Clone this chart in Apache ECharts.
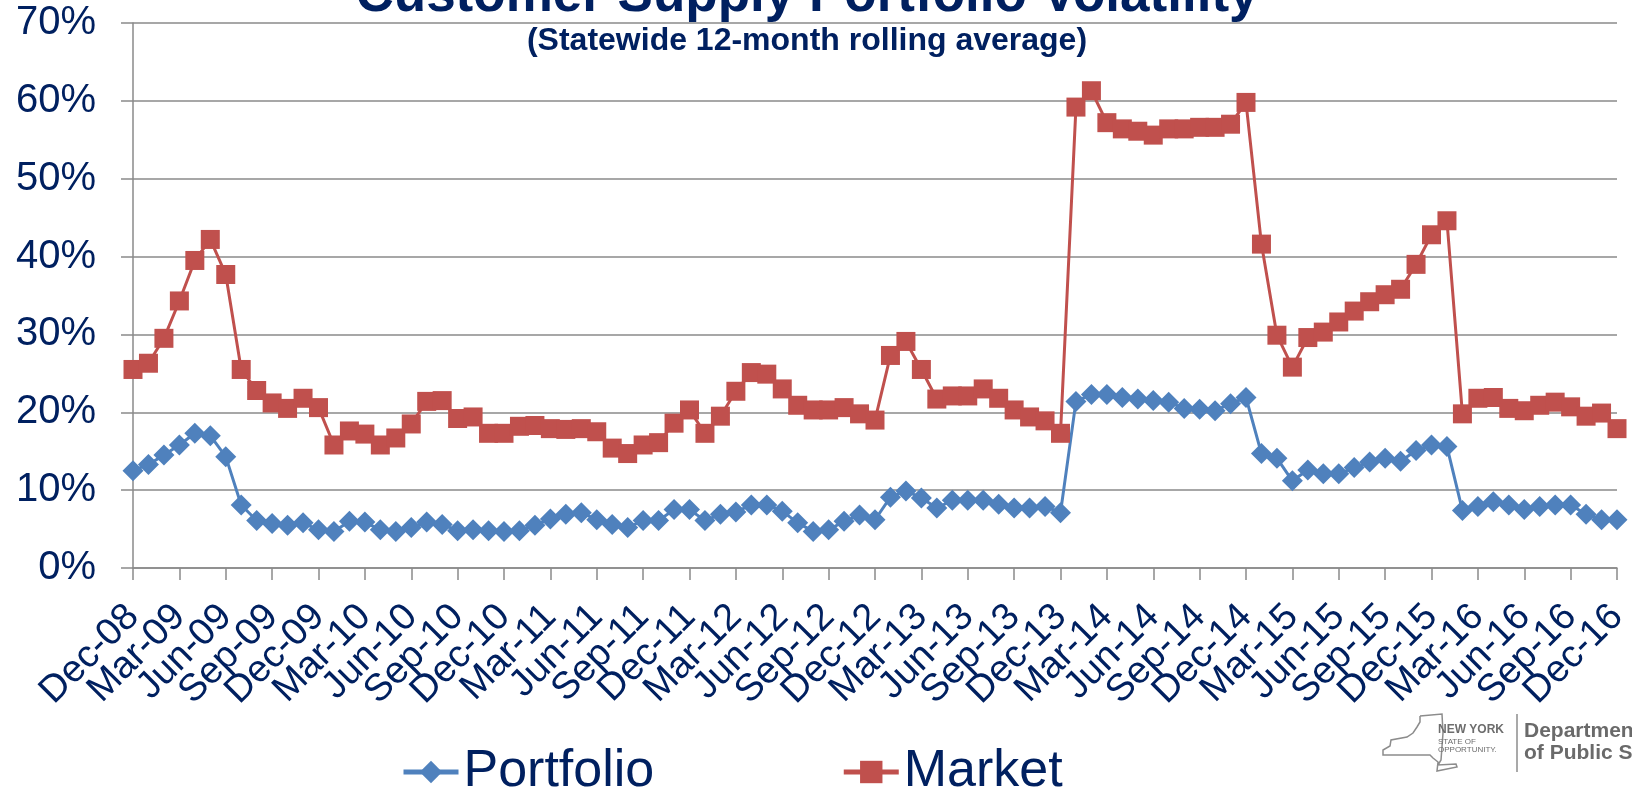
<!DOCTYPE html>
<html>
<head>
<meta charset="utf-8">
<title>Customer Supply Portfolio Volatility</title>
<script src="https://cdn.jsdelivr.net/npm/echarts@6/dist/echarts.min.js"></script>
<style>
  html, body { margin: 0; padding: 0; background: #ffffff; }
  #chart { width: 1632px; height: 794px; }
</style>
</head>
<body>
<div id="chart"></div>
<script>
// monthly points, Dec-08 .. Dec-16
var months = [
    'Dec-08',
    'Jan-09', 'Feb-09', 'Mar-09', 'Apr-09', 'May-09', 'Jun-09', 'Jul-09', 'Aug-09', 'Sep-09', 'Oct-09', 'Nov-09', 'Dec-09',
    'Jan-10', 'Feb-10', 'Mar-10', 'Apr-10', 'May-10', 'Jun-10', 'Jul-10', 'Aug-10', 'Sep-10', 'Oct-10', 'Nov-10', 'Dec-10',
    'Jan-11', 'Feb-11', 'Mar-11', 'Apr-11', 'May-11', 'Jun-11', 'Jul-11', 'Aug-11', 'Sep-11', 'Oct-11', 'Nov-11', 'Dec-11',
    'Jan-12', 'Feb-12', 'Mar-12', 'Apr-12', 'May-12', 'Jun-12', 'Jul-12', 'Aug-12', 'Sep-12', 'Oct-12', 'Nov-12', 'Dec-12',
    'Jan-13', 'Feb-13', 'Mar-13', 'Apr-13', 'May-13', 'Jun-13', 'Jul-13', 'Aug-13', 'Sep-13', 'Oct-13', 'Nov-13', 'Dec-13',
    'Jan-14', 'Feb-14', 'Mar-14', 'Apr-14', 'May-14', 'Jun-14', 'Jul-14', 'Aug-14', 'Sep-14', 'Oct-14', 'Nov-14', 'Dec-14',
    'Jan-15', 'Feb-15', 'Mar-15', 'Apr-15', 'May-15', 'Jun-15', 'Jul-15', 'Aug-15', 'Sep-15', 'Oct-15', 'Nov-15', 'Dec-15',
    'Jan-16', 'Feb-16', 'Mar-16', 'Apr-16', 'May-16', 'Jun-16', 'Jul-16', 'Aug-16', 'Sep-16', 'Oct-16', 'Nov-16', 'Dec-16'
];

// volatility in percent
var portfolio = [
    12.5,
    13.3, 14.5, 15.8, 17.3, 17.0, 14.3, 8.1, 6.1, 5.7, 5.5, 5.8, 4.9,
    4.7, 6.0, 5.9, 4.9, 4.7, 5.2, 5.9, 5.6, 4.8, 4.9, 4.8, 4.7,
    4.8, 5.5, 6.3, 6.9, 7.1, 6.2, 5.6, 5.2, 6.1, 6.1, 7.5, 7.5,
    6.1, 6.9, 7.2, 8.1, 8.1, 7.3, 5.8, 4.7, 4.9, 6.0, 6.8, 6.2,
    9.1, 9.9, 9.0, 7.7, 8.7, 8.7, 8.7, 8.2, 7.7, 7.7, 7.9, 7.1,
    21.4, 22.3, 22.3, 21.9, 21.7, 21.5, 21.3, 20.5, 20.4, 20.2, 21.1, 21.9,
    14.7, 14.1, 11.2, 12.6, 12.1, 12.1, 12.9, 13.6, 14.1, 13.7, 15.1, 15.8,
    15.6, 7.4, 7.9, 8.5, 8.1, 7.5, 7.9, 8.1, 8.1, 6.9, 6.2, 6.2
];

var market = [
    25.5,
    26.3, 29.5, 34.3, 39.5, 42.2, 37.7, 25.5, 22.8, 21.2, 20.5, 21.8, 20.6,
    15.8, 17.6, 17.2, 15.8, 16.7, 18.5, 21.4, 21.5, 19.2, 19.4, 17.3, 17.3,
    18.2, 18.3, 17.9, 17.8, 17.9, 17.5, 15.4, 14.7, 15.8, 16.1, 18.6, 20.3,
    17.3, 19.5, 22.7, 25.1, 24.9, 23.0, 20.9, 20.3, 20.3, 20.6, 19.8, 19.0,
    27.3, 29.1, 25.5, 21.7, 22.1, 22.1, 23.0, 21.8, 20.3, 19.4, 18.9, 17.3,
    59.2, 61.3, 57.2, 56.4, 56.1, 55.6, 56.4, 56.4, 56.6, 56.6, 57.0, 59.8,
    41.6, 29.9, 25.8, 29.6, 30.3, 31.6, 33.0, 34.2, 35.1, 35.8, 39.0, 42.8,
    44.6, 19.8, 21.8, 21.9, 20.5, 20.2, 20.9, 21.3, 20.7, 19.5, 19.9, 17.9
];

var seriesNames = ['Portfolio', 'Market'];

var navy = '#002060';
var gridGray = '#8a8a8a';
var fontFamily = '"Liberation Sans", Arial, sans-serif';

var myChart = echarts.init(document.getElementById('chart'), null, { renderer: 'canvas' });

// rough outline of the state for the logo
var stateOutline = [
    [1420, 716], [1442, 714], [1443, 733], [1441, 760], [1438, 765], [1456, 764],
    [1457, 767], [1437, 771], [1438, 762], [1433, 758], [1430, 755], [1383, 755],
    [1383, 750], [1390, 746], [1391, 740], [1407, 737], [1413, 733], [1417, 727],
    [1420, 722], [1420, 716]
];

var option = {
    animation: false,
    backgroundColor: '#ffffff',
    textStyle: { fontFamily: fontFamily },
    grid: {
        left: 133,
        right: 15,
        top: 23,
        bottom: 226,
        containLabel: false,
        outerBoundsMode: 'none'
    },
    legend: {
        data: seriesNames,
        left: 401,
        top: 746,
        padding: 0,
        itemWidth: 55,
        itemHeight: 28,
        itemGap: 187,
        lineStyle: { width: 5 },
        textStyle: {
            color: navy,
            fontSize: 52,
            fontFamily: fontFamily
        }
    },
    xAxis: {
        type: 'category',
        data: months,
        boundaryGap: false,
        axisLine: { lineStyle: { color: gridGray, width: 1.5 } },
        axisTick: {
            interval: 2,
            length: 12,
            lineStyle: { color: gridGray, width: 1.5 }
        },
        axisLabel: {
            // every label is laid out, only each third month gets text
            interval: 0,
            formatter: function (value, index) {
                return index % 3 === 0 ? value : '';
            },
            rotate: 45,
            margin: 43,
            hideOverlap: false,
            color: navy,
            fontSize: 38,
            fontFamily: fontFamily
        },
        splitLine: { show: false }
    },
    yAxis: {
        type: 'value',
        min: 0,
        max: 70,
        interval: 10,
        axisLine: { show: true, lineStyle: { color: gridGray, width: 1.5 } },
        axisTick: {
            show: true,
            length: 12,
            lineStyle: { color: gridGray, width: 1.5 }
        },
        axisLabel: {
            formatter: '{value}%',
            margin: 37,
            color: navy,
            fontSize: 40,
            fontFamily: fontFamily
        },
        splitLine: { show: true, lineStyle: { color: gridGray, width: 1.5 } }
    },
    series: [
        {
            name: 'Portfolio',
            type: 'line',
            data: portfolio,
            symbol: 'diamond',
            symbolSize: 21,
            showAllSymbol: true,
            lineStyle: { color: '#4F81BD', width: 3 },
            itemStyle: { color: '#4F81BD' }
        },
        {
            name: 'Market',
            type: 'line',
            data: market,
            symbol: 'rect',
            symbolSize: 19,
            showAllSymbol: true,
            lineStyle: { color: '#C0504D', width: 3 },
            itemStyle: { color: '#C0504D' }
        }
    ],
    graphic: [
        {
            type: 'text',
            style: {
                text: 'Customer Supply Portfolio Volatility',
                x: 807,
                y: -4,
                textAlign: 'center',
                textVerticalAlign: 'middle',
                font: 'bold 53px ' + fontFamily,
                fill: navy
            }
        },
        {
            type: 'text',
            style: {
                text: '(Statewide 12-month rolling average)',
                x: 807,
                y: 41,
                textAlign: 'center',
                textVerticalAlign: 'middle',
                font: 'bold 32px ' + fontFamily,
                fill: navy
            }
        },
        // logo
        {
            type: 'polyline',
            shape: { points: stateOutline },
            style: { stroke: '#8c8c8c', fill: null, lineWidth: 1.5 }
        },
        {
            type: 'text',
            style: {
                text: 'NEW YORK', x: 1438, y: 730,
                textVerticalAlign: 'middle',
                font: 'bold 12px ' + fontFamily, fill: '#6d6d6d'
            }
        },
        {
            type: 'text',
            style: {
                text: 'STATE OF', x: 1438, y: 742,
                textVerticalAlign: 'middle',
                font: '8px ' + fontFamily, fill: '#6d6d6d'
            }
        },
        {
            type: 'text',
            style: {
                text: 'OPPORTUNITY.', x: 1438, y: 750,
                textVerticalAlign: 'middle',
                font: '8px ' + fontFamily, fill: '#6d6d6d'
            }
        },
        {
            type: 'line',
            shape: { x1: 1517, y1: 714, x2: 1517, y2: 772 },
            style: { stroke: '#8c8c8c', lineWidth: 1.5 }
        },
        {
            type: 'text',
            style: {
                text: 'Department', x: 1524, y: 731,
                textVerticalAlign: 'middle',
                font: 'bold 21px ' + fontFamily, fill: '#6a6a6a'
            }
        },
        {
            type: 'text',
            style: {
                text: 'of Public Service', x: 1524, y: 753,
                textVerticalAlign: 'middle',
                font: 'bold 21px ' + fontFamily, fill: '#6a6a6a'
            }
        }
    ]
};

myChart.setOption(option);
</script>
</body>
</html>
